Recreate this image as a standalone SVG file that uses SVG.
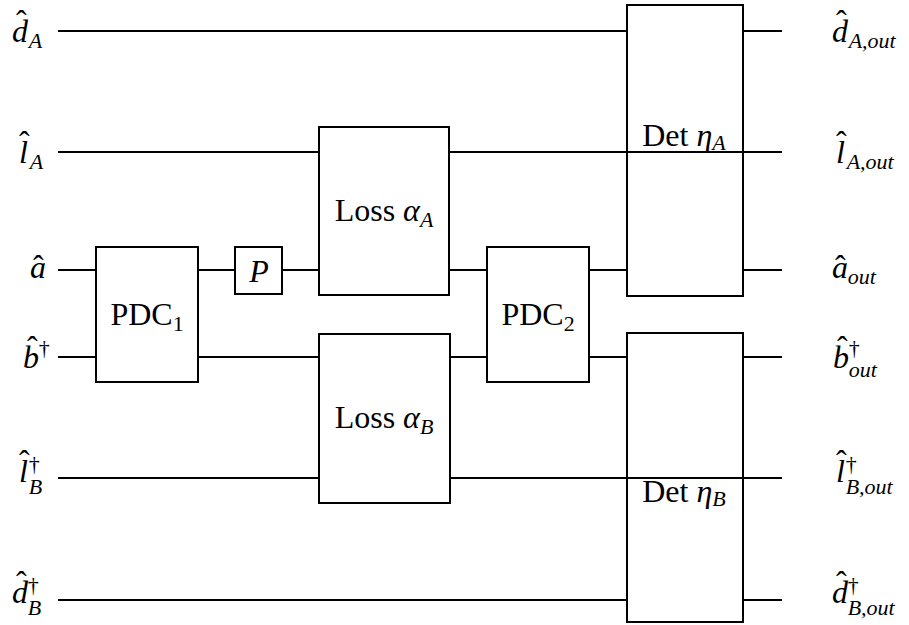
<svg xmlns="http://www.w3.org/2000/svg" width="909" height="625" viewBox="0 0 909 625">
<style>
.w{stroke:#000;stroke-width:2;fill:none}
.box{fill:#fff;stroke:#000;stroke-width:2}
.t{font-family:"Liberation Serif",serif;font-size:32px;fill:#000}
.i{font-style:italic}
.s{font-size:22px}
.c{text-anchor:middle}
.hat{font-style:normal}
</style>
<rect width="909" height="625" fill="#fff"/>
<g id="connectors">
<path class="w" d="M58 31H627M743 31H782"/>
<path class="w" d="M58 152H319M449 152H782"/>
<path class="w" d="M58 270H96M198 270H235M282 270H319M449 270H487M589 270H627M743 270H782"/>
<path class="w" d="M58 357H96M198 357H319M450 357H487M589 357H627M743 357H782"/>
<path class="w" d="M58 478H319M450 478H782"/>
<path class="w" d="M58 600H627M743 600H782"/>
</g>
<g id="pdc1"><rect class="box" x="96" y="247" width="102" height="135"/><text class="t c" x="147" y="325">PDC<tspan class="s" dy="6">1</tspan></text></g>
<g id="p"><rect class="box" x="235" y="247" width="47" height="47"/><text class="t i c" x="259" y="282">P</text></g>
<g id="lossA"><rect class="box" x="319" y="127" width="130" height="168"/><text class="t c" x="384" y="221">Loss <tspan class="i">α</tspan><tspan class="s i" dy="6">A</tspan></text></g>
<g id="lossB"><rect class="box" x="319" y="334" width="131" height="169"/><text class="t c" x="384" y="428">Loss <tspan class="i">α</tspan><tspan class="s i" dy="6">B</tspan></text></g>
<g id="pdc2"><rect class="box" x="487" y="247" width="102" height="135"/><text class="t c" x="538" y="325">PDC<tspan class="s" dy="6">2</tspan></text></g>
<g id="detA"><rect class="box" x="627" y="5" width="116" height="291"/><path class="w" d="M627 152H743"/><text class="t c" x="684" y="146">Det <tspan class="i">η</tspan><tspan class="s i" dy="4">A</tspan></text></g>
<g id="detB"><rect class="box" x="627" y="333" width="116" height="289"/><path class="w" d="M627 478H743"/><text class="t c" x="684" y="502">Det <tspan class="i">η</tspan><tspan class="s i" dy="4">B</tspan></text></g>
<g id="labels-in">
<text class="t i" x="12" y="42">d<tspan class="hat" dx="-12" dy="-10">ˆ</tspan><tspan class="s" dx="2" dy="16">A</tspan></text>
<text class="t i" x="19" y="163">l<tspan class="hat" dx="-9" dy="-10">ˆ</tspan><tspan class="s" dx="0" dy="16">A</tspan></text>
<text class="t i" x="30" y="278">a<tspan class="hat" dx="-13" dy="-1">ˆ</tspan></text>
<text class="t i" x="23" y="368">b<tspan class="hat" dx="-12" dy="-10">ˆ</tspan><tspan class="s" style="font-style:normal" dx="1" dy="-3">†</tspan></text>
<text class="t i" x="19" y="482">l<tspan class="hat" dx="-9" dy="-10">ˆ</tspan><tspan class="s" style="font-style:normal" dx="-1" dy="-1">†</tspan><tspan class="s" dx="-11" dy="23">B</tspan></text>
<text class="t i" x="12" y="603">d<tspan class="hat" dx="-12" dy="-10">ˆ</tspan><tspan class="s" style="font-style:normal" dx="1" dy="-1">†</tspan><tspan class="s" dx="-11" dy="23">B</tspan></text>
</g>
<g id="labels-out">
<text class="t i" x="832" y="42">d<tspan class="hat" dx="-12" dy="-10">ˆ</tspan><tspan class="s" dx="2" dy="16">A,out</tspan></text>
<text class="t i" x="836" y="163">l<tspan class="hat" dx="-9" dy="-10">ˆ</tspan><tspan class="s" dx="0" dy="16">A,out</tspan></text>
<text class="t i" x="832" y="278">a<tspan class="hat" dx="-13" dy="-1">ˆ</tspan><tspan class="s" dx="2" dy="7">out</tspan></text>
<text class="t i" x="833" y="368">b<tspan class="hat" dx="-12" dy="-10">ˆ</tspan><tspan class="s" style="font-style:normal" dx="1" dy="-3">†</tspan><tspan class="s" dx="-11" dy="22">out</tspan></text>
<text class="t i" x="836" y="482">l<tspan class="hat" dx="-9" dy="-10">ˆ</tspan><tspan class="s" style="font-style:normal" dx="-1" dy="-1">†</tspan><tspan class="s" dx="-11" dy="23">B,out</tspan></text>
<text class="t i" x="832" y="603">d<tspan class="hat" dx="-12" dy="-10">ˆ</tspan><tspan class="s" style="font-style:normal" dx="1" dy="-1">†</tspan><tspan class="s" dx="-11" dy="23">B,out</tspan></text>
</g>
</svg>
